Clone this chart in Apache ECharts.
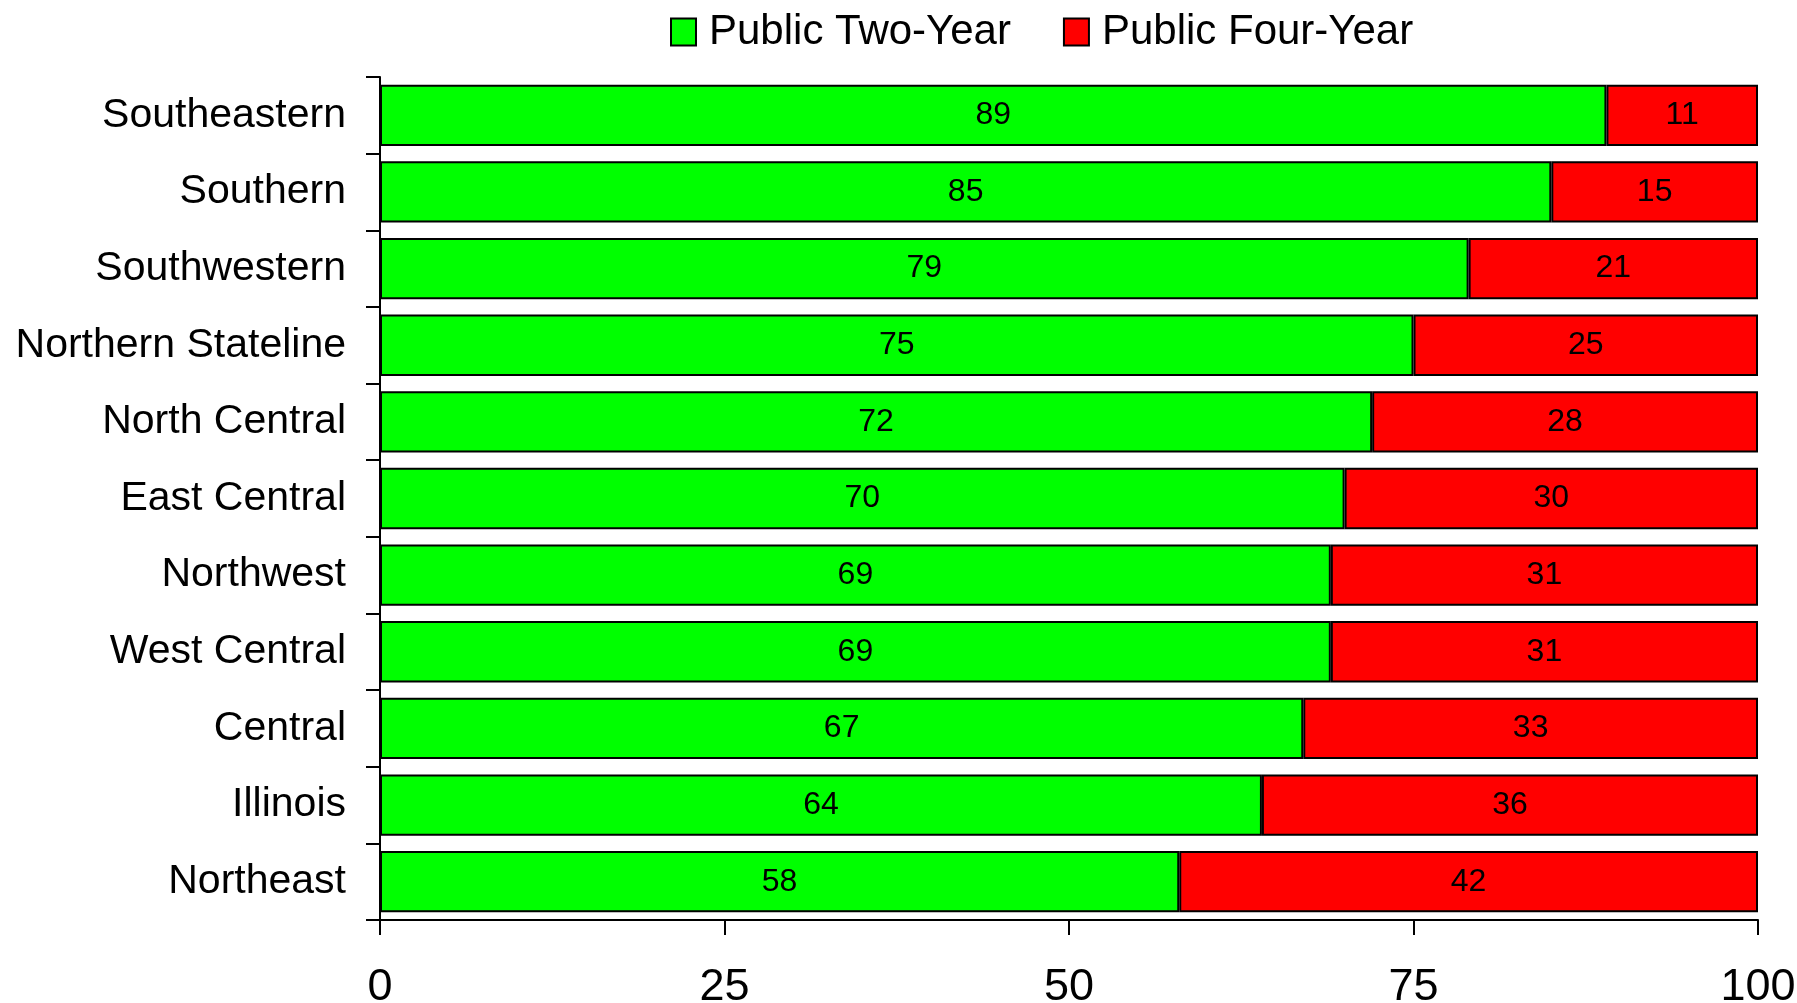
<!DOCTYPE html>
<html>
<head>
<meta charset="utf-8">
<style>
  html, body { margin: 0; padding: 0; background: #ffffff; }
  #chart { width: 1797px; height: 1003px; }
</style>
<script src="https://cdn.jsdelivr.net/npm/echarts@6/dist/echarts.min.js"></script>
</head>
<body>
<div id="chart"></div>
<script>
// Regions, listed top to bottom
const regions = [
  'Southeastern', 'Southern', 'Southwestern', 'Northern Stateline', 'North Central',
  'East Central', 'Northwest', 'West Central', 'Central', 'Illinois', 'Northeast'
];
// Share of students (%) by sector
const twoYear  = [89, 85, 79, 75, 72, 70, 69, 69, 67, 64, 58];
const fourYear = [11, 15, 21, 25, 28, 30, 31, 31, 33, 36, 42];
const seriesNames = ['Public Two-Year', 'Public Four-Year'];
const xTicks = [0, 25, 50, 75, 100];

const FONT = '"Liberation Sans", Arial, sans-serif';

const chart = echarts.init(document.getElementById('chart'));

const barLabel = {
  show: true,
  position: 'inside',
  color: '#000000',
  fontFamily: FONT,
  fontSize: 32,
  padding: [9, 0, 0, 0]
};

chart.setOption({
  animation: false,
  backgroundColor: '#ffffff',
  textStyle: { fontFamily: FONT, color: '#000000' },
  legend: {
    left: 665,
    top: 6,
    itemWidth: 25,
    itemHeight: 27,
    itemGap: 52,
    icon: 'rect',
    textStyle: { fontFamily: FONT, fontSize: 42, color: '#000000', padding: [0, 0, 0, 8] },
    data: seriesNames.map(n => ({ name: n, itemStyle: { borderColor: '#000000', borderWidth: 2 } }))
  },
  grid: { left: 380, right: 39, top: 77, bottom: 83, containLabel: false, outerBoundsMode: 'none' },
  xAxis: {
    type: 'value',
    min: xTicks[0],
    max: xTicks[xTicks.length - 1],
    interval: xTicks[1] - xTicks[0],
    splitLine: { show: false },
    axisLine: { show: true, lineStyle: { color: '#000000', width: 2 } },
    axisTick: { show: true, length: 15, lineStyle: { color: '#000000', width: 2 } },
    axisLabel: { fontFamily: FONT, fontSize: 45, color: '#000000', margin: 45 }
  },
  yAxis: {
    type: 'category',
    inverse: true,
    data: regions,
    axisLine: { show: true, lineStyle: { color: '#000000', width: 2 } },
    axisTick: { show: true, length: 14, alignWithLabel: false, lineStyle: { color: '#000000', width: 2 } },
    axisLabel: { fontFamily: FONT, fontSize: 41, color: '#000000', margin: 34, padding: [11, 0, 0, 0] }
  },
  series: [
    {
      name: seriesNames[0],
      type: 'bar',
      stack: 'total',
      barCategoryGap: '20%',
      data: twoYear,
      itemStyle: { color: '#00ff00', borderColor: '#000000', borderWidth: 2 },
      label: barLabel
    },
    {
      name: seriesNames[1],
      type: 'bar',
      stack: 'total',
      barCategoryGap: '20%',
      data: fourYear,
      itemStyle: { color: '#ff0000', borderColor: '#000000', borderWidth: 2 },
      label: barLabel
    }
  ]
});
</script>
</body>
</html>
